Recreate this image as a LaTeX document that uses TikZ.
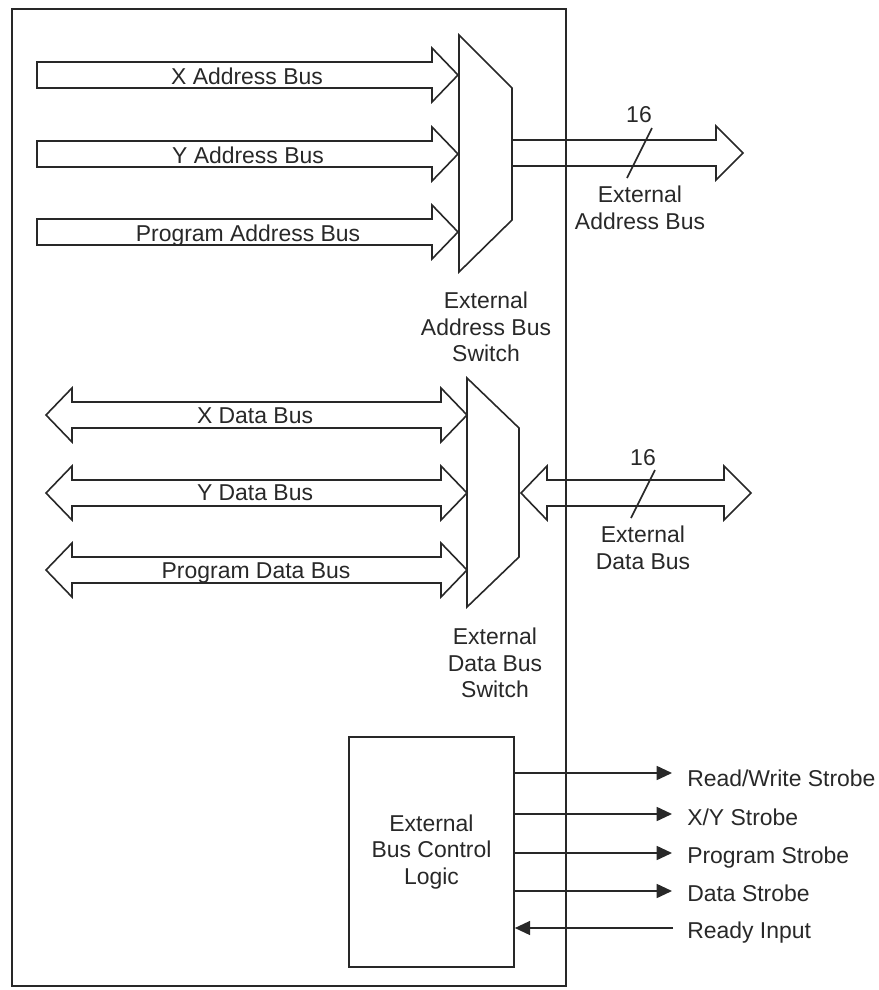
\documentclass[tikz,border=0pt]{standalone}
\usepackage{fontspec}
\setmainfont{Liberation Sans}
\usetikzlibrary{arrows.meta}
\definecolor{ink}{RGB}{40,40,40}

\begin{document}
\begin{tikzpicture}[x=0.75pt,y=0.75pt,yscale=-1,xscale=1,
    busline/.style={draw=ink, line width=1.2pt, line join=miter},
    frameline/.style={draw=ink, line width=1.9pt},
    sigline/.style={draw=ink, line width=1.3pt, -{Triangle[length=11.5pt,width=10.5pt]}},
    lbl/.style={text=ink, inner sep=0pt, font=\fontsize{17.2}{19.9}\selectfont},
    ]
    \useasboundingbox (0,0) rectangle (879,990);

    %Shape: Rectangle (outer frame)
    \draw [frameline] (12,9) rectangle (566,986);

    %Shape: Bus Arrow (X address)
    \draw [busline] (37,62) -- (432,62) -- (432,48) -- (458,75) -- (432,102) -- (432,88) -- (37,88) -- cycle ;
    %Shape: Bus Arrow (Y address)
    \draw [busline] (37,141) -- (432,141) -- (432,127) -- (458,154) -- (432,181) -- (432,167) -- (37,167) -- cycle ;
    %Shape: Bus Arrow (program address)
    \draw [busline] (37,219) -- (432,219) -- (432,205) -- (458,232) -- (432,259) -- (432,245) -- (37,245) -- cycle ;
    %Shape: Trapezoid (address bus switch)
    \draw [busline] (459,35) -- (512,88) -- (512,220) -- (459,272) -- cycle ;
    %Shape: Bus Arrow (external address)
    \draw [busline] (512,140) -- (716,140) -- (716,126) -- (743,153) -- (716,180) -- (716,166) -- (512,166) ;
    %Straight Lines (width tick)
    \draw [busline] (652,128) -- (627,178) ;

    %Shape: Bus Arrow (X data)
    \draw [busline] (46,415) -- (72,388) -- (72,402) -- (441,402) -- (441,388) -- (467,415) -- (441,442) -- (441,428) -- (72,428) -- (72,442) -- cycle ;
    %Shape: Bus Arrow (Y data)
    \draw [busline] (46,493) -- (72,466) -- (72,480) -- (441,480) -- (441,466) -- (467,493) -- (441,520) -- (441,506) -- (72,506) -- (72,520) -- cycle ;
    %Shape: Bus Arrow (program data)
    \draw [busline] (46,570) -- (72,543) -- (72,557) -- (441,557) -- (441,543) -- (467,570) -- (441,597) -- (441,583) -- (72,583) -- (72,597) -- cycle ;
    %Shape: Trapezoid (data bus switch)
    \draw [busline] (467,378) -- (519,428) -- (519,557) -- (467,607) -- cycle ;
    %Shape: Bus Arrow (external data)
    \draw [busline] (521,493) -- (547,466) -- (547,480) -- (724,480) -- (724,466) -- (751,493) -- (724,520) -- (724,506) -- (547,506) -- (547,520) -- cycle ;
    %Straight Lines (width tick)
    \draw [busline] (655,470) -- (631,518) ;

    % Text Node
    \node [lbl, anchor=base] (xaddr) at (247,84.5) {X Address Bus};
    % Text Node
    \node [lbl, anchor=base] (yaddr) at (248,163.5) {Y Address Bus};
    % Text Node
    \node [lbl, anchor=base] (paddr) at (248,241.5) {Program Address Bus};
    % Text Node
    \node [lbl] (awidth) at (639,115) {16};
    % Text Node
    \node [lbl, anchor=north, align=center] (extaddr) at (640,186) {External\\Address Bus};
    % Text Node
    \node [lbl, anchor=north, align=center] (addrsw) at (486,292) {External\\Address Bus\\Switch};

    % Text Node
    \node [lbl, anchor=base] (xdata) at (255,423) {X Data Bus};
    % Text Node
    \node [lbl, anchor=base] (ydata) at (255,500) {Y Data Bus};
    % Text Node
    \node [lbl, anchor=base] (pdata) at (256,578) {Program Data Bus};
    % Text Node
    \node [lbl] (dwidth) at (643,458) {16};
    % Text Node
    \node [lbl, anchor=north, align=center] (extdata) at (643,526) {External\\Data Bus};
    % Text Node
    \node [lbl, anchor=north, align=center] (datasw) at (495,628) {External\\Data Bus\\Switch};

    % Text Node
    \node [lbl, draw=ink, line width=1.2pt, align=center, minimum width=123.75pt, minimum height=172.5pt] (ctrl) at (431.5,852) {External\\Bus Control\\Logic};

    % Text Node
    \node [lbl, anchor=base west] (rwlbl) at (687,786) {Read/Write Strobe};
    \node [lbl, anchor=base west] (xylbl) at (687,825) {X/Y Strobe};
    \node [lbl, anchor=base west] (pslbl) at (687,863) {Program Strobe};
    \node [lbl, anchor=base west] (dslbl) at (687,901) {Data Strobe};
    \node [lbl, anchor=base west] (rdylbl) at (687,938) {Ready Input};

    \coordinate (rwtip) at (672,773);
    \coordinate (xytip) at (672,814);
    \coordinate (pstip) at (672,853);
    \coordinate (dstip) at (672,891);
    \coordinate (rdytail) at (673,928);

    % Connection
    \draw [sigline] (ctrl.east |- rwtip) -- (rwtip) ;
    % Connection
    \draw [sigline] (ctrl.east |- xytip) -- (xytip) ;
    % Connection
    \draw [sigline] (ctrl.east |- pstip) -- (pstip) ;
    % Connection
    \draw [sigline] (ctrl.east |- dstip) -- (dstip) ;
    % Connection
    \draw [sigline] (rdytail) -- (ctrl.east |- rdytail) ;

\end{tikzpicture}
\end{document}
